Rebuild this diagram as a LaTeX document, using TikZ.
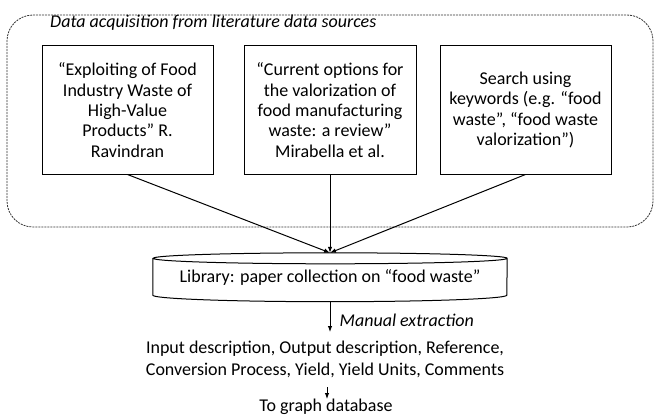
\documentclass[tikz,border=0pt]{standalone}
\usepackage{fontspec}
\setmainfont{Carlito}
\usetikzlibrary{arrows.meta}
\begin{document}
\begin{tikzpicture}[x=1pt,y=1pt,
  srcbox/.style={draw=black,line width=1pt,minimum width=171pt,minimum height=128pt,align=center,inner sep=2pt,
    font=\fontsize{18}{20.3}\selectfont},
  plain/.style={inner sep=0pt,align=center,font=\fontsize{18}{22}\selectfont},
  arr/.style={line width=1pt,-{Latex[length=6pt,width=4.5pt]}},
  group/.style={draw=black!80,line width=0.8pt,dash pattern=on 2pt off 1pt,rounded corners=26pt}
]
\useasboundingbox (0,0) rectangle (655,416);
% group frame
\draw[group] (7,189) rectangle (653,401);
\node[anchor=base west,inner sep=0pt,font=\fontsize{18}{20}\selectfont\itshape] (title) at (50,388) {Data acquisition from literature data sources};
% source boxes
\node[srcbox] (b1) at (127.5,306) {“Exploiting of Food\\Industry Waste of\\High-Value\\Products” R.\\Ravindran};
\node[srcbox,minimum width=172pt] (b2) at (330,306) {“Current options for\\the valorization of\\food manufacturing\\waste: a review”\\Mirabella et al.};
\node[srcbox] (b3) at (525.5,306) {Search using\\keywords (e.g. “food\\waste”, “food waste\\valorization”)};
% library cylinder
\node[minimum width=354pt,minimum height=48.5pt,inner sep=0pt,font=\fontsize{18}{20}\selectfont] (lib) at (330,138.75) {\raisebox{-2pt}{Library: paper collection on “food waste”}};
\draw[line width=1pt] ([yshift=-5.5pt]lib.north west) -- ([yshift=6.5pt]lib.south west)
  arc[start angle=180,end angle=360,x radius=177pt,y radius=6.5pt]
  -- ([yshift=-5.5pt]lib.north east)
  arc[start angle=0,end angle=360,x radius=177pt,y radius=5.5pt];
% connectors into library
\draw[arr] (b1.south) -- (lib.north);
\draw[arr] (b2.south) -- (lib.north);
\draw[arr] (b3.south) -- (lib.north);
% extraction
\node[plain] (ext) at (325,57) {Input description, Output description, Reference,\\Conversion Process, Yield, Yield Units, Comments};
\coordinate (exttop) at (330,84);
\draw[arr] (lib.south) -- (exttop);
\node[anchor=east,inner sep=0pt,font=\fontsize{18}{20}\selectfont\itshape] (man) at (474,96) {Manual extraction};
\node[plain] (tgd) at (326,9.5) {To graph database};
\coordinate (a2s) at (327,29);
\coordinate (a2e) at (327,17);
\draw[arr] (a2s) -- (a2e);
\end{tikzpicture}
\end{document}
